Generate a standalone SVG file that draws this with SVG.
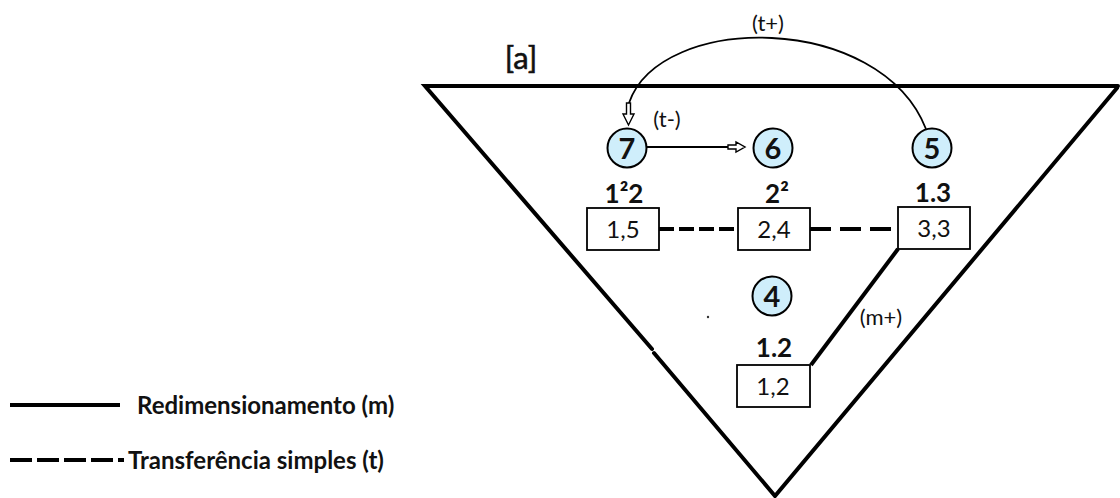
<svg xmlns="http://www.w3.org/2000/svg" width="1120" height="498" viewBox="0 0 1120 498">
  <style>
    .frame { fill: none; stroke: #000; stroke-width: 4; stroke-linecap: round; stroke-linejoin: miter; }
    .node circle { fill: #cfeefb; stroke: #000; stroke-width: 2; }
    .num { font-family: Lato, "Liberation Sans", sans-serif; font-weight: 700; font-size: 29px; text-anchor: middle; fill: #111; }
    .box rect { fill: #fff; stroke: #000; stroke-width: 1.8; }
    .val { font-family: Lato, "Liberation Sans", sans-serif; font-size: 24px; text-anchor: middle; fill: #111; }
    .head { font-family: Lato, "Liberation Sans", sans-serif; font-weight: 700; font-size: 26px; text-anchor: middle; fill: #111; }
    .lbl { font-family: Lato, "Liberation Sans", sans-serif; font-size: 22px; text-anchor: middle; fill: #111; }
    .legend { font-family: Lato, "Liberation Sans", sans-serif; font-weight: 700; font-size: 24px; fill: #111; }
    .solid { fill: none; stroke: #000; stroke-width: 4; }
    .thin { fill: none; stroke: #000; stroke-width: 1.8; }
    .hollow { fill: #fff; stroke: #000; stroke-width: 1.4; stroke-linejoin: miter; }
  </style>

  <!-- funnel outline -->
  <g id="funnel">
    <path class="frame" d="M1118 86 L425 86 L652 349"/>
    <path class="frame" d="M654 353 L775 496 L1117 88"/>
    <circle cx="708" cy="317" r="1.2" fill="#333"/>
  </g>

  <text x="521" y="69" font-family="Lato, 'Liberation Sans', sans-serif" font-size="31" stroke="#111" stroke-width="0.6" text-anchor="middle" fill="#111">[a]</text>

  <!-- connectors -->
  <g id="connectors">
    <!-- (t+) arc from 5 back to 7 -->
    <path class="thin" d="M926 129 C880 12, 660 12, 629 103"/>
    <path class="hollow" d="M626.5 103 L630.5 103 L630.5 114 L634 114 L628.5 125 L623 114 L626.5 114 Z"/>
    <text class="lbl" x="768" y="31">(t+)</text>

    <!-- (t-) arrow from 7 to 6 -->
    <line class="thin" x1="647" y1="147" x2="728" y2="147"/>
    <path class="hollow" d="M728 145 L736 145 L736 142 L745 147 L736 152 L736 149 L728 149 Z"/>
    <text class="lbl" x="667" y="127">(t-)</text>

    <!-- simple transfers -->
    <line class="solid" x1="659" y1="229" x2="738" y2="229" stroke-dasharray="15 5"/>
    <line class="solid" x1="810" y1="229" x2="898" y2="229" stroke-dasharray="21 9"/>

    <!-- (m+) resizing -->
    <line class="solid" x1="898" y1="249" x2="811" y2="365" stroke-width="3.5"/>
    <text class="lbl" x="881" y="325" font-size="19">(m+)</text>
  </g>

  <!-- nodes -->
  <g id="node-7" class="node">
    <circle cx="627" cy="148" r="19.5"/>
    <text class="num" x="627" y="158.5">7</text>
  </g>
  <g id="node-6" class="node">
    <circle cx="773" cy="148" r="19.5"/>
    <text class="num" x="773" y="158.5">6</text>
  </g>
  <g id="node-5" class="node">
    <circle cx="932" cy="148" r="19.5"/>
    <text class="num" x="932" y="158.5">5</text>
  </g>
  <g id="node-4" class="node">
    <circle cx="772" cy="296" r="19.5"/>
    <text class="num" x="772" y="306.5">4</text>
  </g>

  <g id="box-1-2-2" class="box">
    <text class="head" x="624" y="203">1²2</text>
    <rect x="587" y="208" width="72" height="42"/>
    <text class="val" x="623" y="238">1,5</text>
  </g>
  <g id="box-2-2" class="box">
    <text class="head" x="777" y="203">2²</text>
    <rect x="738" y="208" width="72" height="42"/>
    <text class="val" x="774" y="238">2,4</text>
  </g>
  <g id="box-1-3" class="box">
    <text class="head" x="933" y="202">1.3</text>
    <rect x="898" y="207" width="72" height="42"/>
    <text class="val" x="934" y="237">3,3</text>
  </g>
  <g id="box-1-2" class="box">
    <text class="head" x="774" y="357">1.2</text>
    <rect x="737" y="365" width="73" height="42"/>
    <text class="val" x="773" y="395">1,2</text>
  </g>

  <!-- legend -->
  <g id="legend">
    <line class="solid" x1="10" y1="405" x2="120" y2="405"/>
    <text class="legend" x="137" y="414">Redimensionamento (m)</text>
    <line class="solid" x1="10" y1="460" x2="124" y2="460" stroke-dasharray="22 5"/>
    <text class="legend" x="128" y="469">Transferência simples (t)</text>
  </g>
</svg>
